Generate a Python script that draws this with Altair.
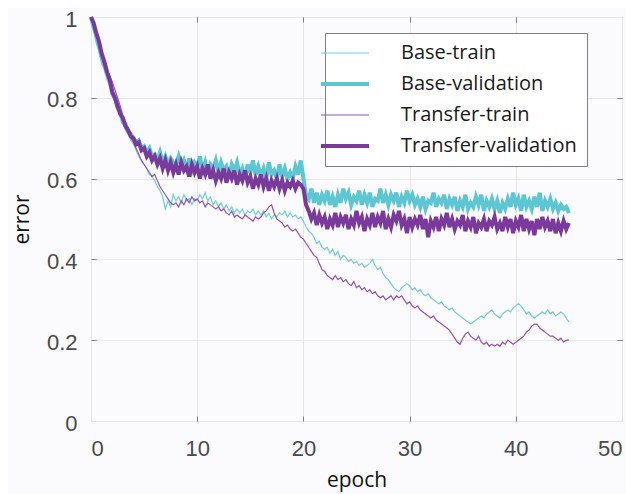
import altair as alt
import pandas as pd

series_names = ["Base-train", "Base-validation", "Transfer-train", "Transfer-validation"]
series_colors = ["#6fcfd9", "#5cc6d2", "#9254b3", "#7a3a9c"]
series_widths = [1.2, 4, 1.2, 4]

epochs = [i * 0.25 for i in range(181)]

base_validation = [
    1.00, 0.975, 0.955, 0.93, 0.90, 0.885, 0.86, 0.845,
    0.81, 0.80, 0.775, 0.765, 0.74, 0.735, 0.715, 0.71,
    0.70, 0.69, 0.695, 0.675, 0.68, 0.665, 0.675, 0.655,
    0.66, 0.645, 0.665, 0.64, 0.655, 0.635, 0.65, 0.64,
    0.635, 0.655, 0.63, 0.645, 0.625, 0.65, 0.62, 0.64,
    0.63, 0.655, 0.62, 0.64, 0.61, 0.635, 0.625, 0.645,
    0.615, 0.64, 0.62, 0.63, 0.605, 0.635, 0.62, 0.64,
    0.61, 0.625, 0.60, 0.635, 0.615, 0.645, 0.61, 0.63,
    0.605, 0.625, 0.60, 0.64, 0.61, 0.62, 0.60, 0.635,
    0.605, 0.625, 0.60, 0.615, 0.60, 0.63, 0.61, 0.645,
    0.60, 0.56, 0.55, 0.575, 0.54, 0.565, 0.535, 0.56,
    0.545, 0.57, 0.535, 0.555, 0.53, 0.56, 0.54, 0.575,
    0.55, 0.565, 0.535, 0.555, 0.545, 0.57, 0.535, 0.56,
    0.54, 0.565, 0.53, 0.55, 0.545, 0.575, 0.54, 0.56,
    0.535, 0.56, 0.545, 0.565, 0.53, 0.555, 0.54, 0.57,
    0.545, 0.56, 0.535, 0.55, 0.53, 0.555, 0.525, 0.545,
    0.54, 0.565, 0.53, 0.55, 0.54, 0.56, 0.525, 0.55,
    0.535, 0.555, 0.52, 0.545, 0.53, 0.56, 0.525, 0.54,
    0.53, 0.555, 0.535, 0.56, 0.52, 0.545, 0.53, 0.55,
    0.525, 0.545, 0.515, 0.54, 0.525, 0.55, 0.53, 0.565,
    0.535, 0.55, 0.52, 0.56, 0.53, 0.545, 0.525, 0.555,
    0.53, 0.565, 0.52, 0.545, 0.53, 0.55, 0.525, 0.54,
    0.52, 0.535, 0.525, 0.53, 0.515,
]

transfer_validation = [
    1.00, 0.985, 0.96, 0.94, 0.91, 0.89, 0.865, 0.845,
    0.815, 0.80, 0.78, 0.76, 0.75, 0.73, 0.72, 0.705,
    0.70, 0.685, 0.69, 0.67, 0.675, 0.655, 0.665, 0.645,
    0.655, 0.635, 0.65, 0.625, 0.645, 0.62, 0.64, 0.615,
    0.635, 0.61, 0.64, 0.62, 0.63, 0.605, 0.635, 0.615,
    0.63, 0.60, 0.625, 0.61, 0.635, 0.60, 0.62, 0.595,
    0.615, 0.60, 0.625, 0.59, 0.615, 0.60, 0.62, 0.585,
    0.61, 0.595, 0.62, 0.59, 0.605, 0.575, 0.60, 0.585,
    0.61, 0.58, 0.60, 0.57, 0.595, 0.58, 0.60, 0.575,
    0.595, 0.57, 0.59, 0.58, 0.595, 0.575, 0.59, 0.585,
    0.575, 0.535, 0.52, 0.50, 0.515, 0.485, 0.51, 0.49,
    0.505, 0.475, 0.50, 0.485, 0.515, 0.48, 0.505, 0.49,
    0.51, 0.475, 0.50, 0.485, 0.52, 0.49, 0.505, 0.47,
    0.50, 0.485, 0.515, 0.48, 0.505, 0.49, 0.52, 0.475,
    0.50, 0.48, 0.51, 0.495, 0.52, 0.485, 0.50, 0.465,
    0.505, 0.48, 0.50, 0.485, 0.51, 0.475, 0.50, 0.455,
    0.495, 0.48, 0.505, 0.47, 0.50, 0.485, 0.515, 0.48,
    0.50, 0.475, 0.495, 0.485, 0.51, 0.47, 0.495, 0.48,
    0.505, 0.465, 0.49, 0.48, 0.50, 0.47, 0.495, 0.485,
    0.505, 0.475, 0.49, 0.47, 0.505, 0.48, 0.50, 0.465,
    0.495, 0.48, 0.51, 0.47, 0.50, 0.475, 0.495, 0.46,
    0.50, 0.475, 0.505, 0.48, 0.495, 0.47, 0.50, 0.465,
    0.49, 0.47, 0.495, 0.475, 0.49,
]

base_train = [
    1.00, 0.965, 0.935, 0.915, 0.885, 0.87, 0.845, 0.83,
    0.805, 0.79, 0.77, 0.755, 0.735, 0.72, 0.71, 0.695,
    0.685, 0.67, 0.655, 0.645, 0.635, 0.625, 0.61, 0.605,
    0.595, 0.58, 0.57, 0.555, 0.525, 0.545, 0.53, 0.56,
    0.545, 0.555, 0.54, 0.56, 0.545, 0.55, 0.535, 0.55,
    0.545, 0.56, 0.55, 0.565, 0.545, 0.555, 0.535, 0.545,
    0.53, 0.54, 0.525, 0.535, 0.52, 0.53, 0.515, 0.525,
    0.515, 0.525, 0.51, 0.52, 0.515, 0.525, 0.51, 0.52,
    0.51, 0.52, 0.505, 0.515, 0.50, 0.51, 0.505, 0.515,
    0.51, 0.52, 0.505, 0.515, 0.505, 0.51, 0.50, 0.505,
    0.495, 0.48, 0.47, 0.465, 0.455, 0.44, 0.445, 0.43,
    0.425, 0.43, 0.415, 0.425, 0.41, 0.42, 0.40, 0.41,
    0.405, 0.395, 0.40, 0.39, 0.395, 0.385, 0.39, 0.38,
    0.385, 0.39, 0.40, 0.385, 0.375, 0.38, 0.365, 0.355,
    0.35, 0.34, 0.33, 0.325, 0.32, 0.33, 0.335, 0.34,
    0.335, 0.325, 0.33, 0.32, 0.325, 0.315, 0.31, 0.315,
    0.305, 0.30, 0.295, 0.29, 0.295, 0.285, 0.28, 0.275,
    0.28, 0.27, 0.265, 0.26, 0.255, 0.25, 0.245, 0.24,
    0.245, 0.25, 0.255, 0.26, 0.255, 0.265, 0.27, 0.275,
    0.265, 0.26, 0.255, 0.265, 0.27, 0.275, 0.27, 0.28,
    0.285, 0.29, 0.285, 0.275, 0.265, 0.27, 0.26, 0.255,
    0.26, 0.265, 0.27, 0.265, 0.275, 0.265, 0.27, 0.26,
    0.265, 0.27, 0.265, 0.255, 0.245,
]

transfer_train = [
    1.00, 0.98, 0.955, 0.935, 0.91, 0.89, 0.87, 0.855,
    0.84, 0.82, 0.80, 0.78, 0.755, 0.735, 0.715, 0.70,
    0.69, 0.675, 0.66, 0.645, 0.635, 0.625, 0.615, 0.605,
    0.61, 0.595, 0.58, 0.57, 0.56, 0.55, 0.54, 0.535,
    0.54, 0.53, 0.545, 0.535, 0.55, 0.54, 0.555, 0.545,
    0.55, 0.54, 0.545, 0.53, 0.54, 0.535, 0.53, 0.525,
    0.53, 0.52, 0.525, 0.515, 0.51, 0.52, 0.505, 0.51,
    0.505, 0.50, 0.51, 0.505, 0.50, 0.495, 0.505, 0.50,
    0.505, 0.515, 0.52, 0.53, 0.535, 0.515, 0.50, 0.495,
    0.49, 0.48, 0.485, 0.475, 0.47, 0.475, 0.465, 0.455,
    0.45, 0.44, 0.43, 0.42, 0.41, 0.405, 0.39, 0.375,
    0.37, 0.36, 0.355, 0.35, 0.36, 0.35, 0.355, 0.345,
    0.35, 0.34, 0.335, 0.345, 0.33, 0.335, 0.325, 0.33,
    0.32, 0.325, 0.315, 0.32, 0.31, 0.305, 0.31, 0.30,
    0.305, 0.31, 0.30, 0.31, 0.305, 0.31, 0.30, 0.29,
    0.295, 0.285, 0.28, 0.285, 0.275, 0.27, 0.265, 0.26,
    0.255, 0.26, 0.25, 0.245, 0.24, 0.235, 0.23, 0.225,
    0.215, 0.205, 0.195, 0.19, 0.205, 0.215, 0.22, 0.21,
    0.205, 0.20, 0.21, 0.195, 0.19, 0.195, 0.185, 0.19,
    0.185, 0.19, 0.185, 0.195, 0.19, 0.20, 0.195, 0.19,
    0.195, 0.20, 0.205, 0.21, 0.22, 0.225, 0.235, 0.24,
    0.24, 0.23, 0.225, 0.22, 0.215, 0.21, 0.21, 0.205,
    0.20, 0.205, 0.195, 0.20, 0.20,
]

x_ticks = [0, 10, 20, 30, 40, 50]
y_ticks = [0, 0.2, 0.4, 0.6, 0.8, 1]

values_by_series = [base_train, base_validation, transfer_train, transfer_validation]
frames = []
for name, vals in zip(series_names, values_by_series):
    frames.append(pd.DataFrame({"epoch": epochs, "error": vals, "series": name}))
df = pd.concat(frames, ignore_index=True)

FRAME = "#7f7f7f"
legend = alt.Legend(
    title=None, orient="none", legendX=234, legendY=16,
    symbolType="M-4,0L4,0", symbolSize=144, labelFont="Open Sans",
    labelFontSize=20, labelColor="#1a1a1a", labelOffset=46, labelLimit=400,
    labelExpr="datum.label + '\u00a0\u00a0\u00a0\u00a0'",
    rowPadding=11, padding=10, fillColor="white", strokeColor=FRAME,
)
color = alt.Color("series:N", scale=alt.Scale(domain=series_names, range=series_colors), legend=legend)
width = alt.StrokeWidth("series:N", scale=alt.Scale(type="ordinal", domain=series_names, range=series_widths), legend=legend)
xs = alt.Scale(domain=[0, 50], nice=False)
ys = alt.Scale(domain=[0, 1], nice=False)

main_x = alt.Axis(orient="bottom", values=x_ticks, format="d", ticks=False, tickSize=0,
                  domain=False, grid=True, gridColor="#e4e6e8", labelFont="Liberation Sans",
                  labelFontSize=22, labelColor="#4a4a4a", labelPadding=17, title="epoch",
                  titleFont="Open Sans", titleFontSize=21, titleFontWeight="normal",
                  titleColor="#111111", titlePadding=10)
main_y = alt.Axis(orient="left", values=y_ticks, format=".1~f", ticks=False, tickSize=0,
                  domain=False, grid=True, gridColor="#e4e6e8", labelFont="Liberation Sans",
                  labelFontSize=22, labelColor="#4a4a4a", labelPadding=14, labelOffset=2,
                  title="error", titleFont="Open Sans", titleFontSize=21,
                  titleFontWeight="normal", titleColor="#111111", titlePadding=14)

def tick_axis(orient, vals):
    return alt.Axis(orient=orient, values=vals, labels=False, domain=False, grid=False,
                    ticks=True, tickSize=5, offset=-5, tickColor=FRAME, title=None)

inner_x = x_ticks[1:-1]
inner_y = y_ticks[1:-1]
axes = [
    (main_x, main_y),
    (tick_axis("top", inner_x), tick_axis("right", inner_y)),
    (tick_axis("bottom", inner_x), tick_axis("left", inner_y)),
    (None, None),
]

layers = []
for name, (ax, ay) in zip(series_names, axes):
    layers.append(
        alt.Chart(df).transform_filter(alt.datum.series == name).mark_line().encode(
            x=alt.X("epoch:Q", scale=xs, axis=ax),
            y=alt.Y("error:Q", scale=ys, axis=ay),
            color=color,
            strokeWidth=width,
        )
    )

chart = alt.layer(*layers).resolve_axis(x="independent", y="independent").properties(
    width=531, height=404,
    autosize=alt.AutoSizeParams(type="none"),
    padding={"left": 83, "top": 9, "right": 4, "bottom": 75},
    background="#fbfbfd",
).configure_view(stroke=FRAME, strokeWidth=1)

chart.save("out.html", embed_options={"renderer": "svg", "actions": False})
